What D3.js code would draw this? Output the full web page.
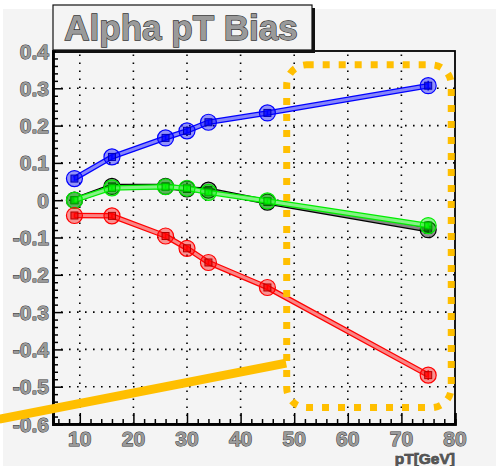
<!DOCTYPE html>
<html>
<head>
<meta charset="utf-8">
<script src="https://cdn.jsdelivr.net/npm/d3@7"></script>
<style>
  html, body { margin: 0; padding: 0; background: #ffffff; }
  svg { display: block; }
</style>
</head>
<body>
<svg id="chart" width="496" height="466"></svg>
<script>
// pT bins (GeV)
const ptValues = [9, 16, 26, 30, 34, 45, 75];

// Bias per series
const biasBlue  = [0.058, 0.116, 0.167, 0.186, 0.209, 0.234, 0.307];
const biasBlack = [0.000, 0.037, 0.037, 0.030, 0.027, -0.005, -0.079];
const biasGreen = [0.000, 0.033, 0.036, 0.032, 0.021, -0.002, -0.068];
const biasRed   = [-0.041, -0.042, -0.096, -0.129, -0.167, -0.234, -0.469];

// Statistical uncertainty on each bias value
const errBlue  = [0.006, 0.006, 0.006, 0.006, 0.006, 0.006, 0.013];
const errBlack = [0.005, 0.005, 0.005, 0.005, 0.005, 0.005, 0.010];
const errGreen = [0.005, 0.005, 0.005, 0.005, 0.005, 0.005, 0.010];
const errRed   = [0.006, 0.006, 0.006, 0.006, 0.006, 0.006, 0.013];

const seriesColors = ["#000000", "#00ee00", "#0000ff", "#ff0000"];

// Axis ticks
const xTicks = [10, 20, 30, 40, 50, 60, 70, 80];
const yTicks = [-0.6, -0.5, -0.4, -0.3, -0.2, -0.1, 0, 0.1, 0.2, 0.3, 0.4];

const titleText = "Alpha pT Bias";
const xTitle = "pT[GeV]";

// Highlight annotation (data coordinates): rounded box around the high-pT region
const boxX = [48.6, 79.3];
const boxY = [-0.556, 0.363];
// Highlight annotation (data coordinates): pointer line
const pointerX = [-5.0, 48.5];
const pointerY = [-0.587, -0.437];

const series = [
  { values: biasBlack, errs: errBlack, color: seriesColors[0] },
  { values: biasGreen, errs: errGreen, color: seriesColors[1] },
  { values: biasBlue,  errs: errBlue,  color: seriesColors[2] },
  { values: biasRed,   errs: errRed,   color: seriesColors[3] }
];

const svg = d3.select("#chart");
const bg = "#f4f4f4";

// Canvas
svg.append("rect").attr("x", 3).attr("y", 9).attr("width", 493).attr("height", 457).attr("fill", bg);

const frame = { left: 53, right: 455, top: 51, bottom: 424 };
const x = d3.scaleLinear().domain([5, 80]).range([frame.left, frame.right]);
const y = d3.scaleLinear().domain([-0.6, 0.4]).range([frame.bottom, frame.top]);

// Dotted grid
const grid = svg.append("g");
xTicks.filter(t => t < 80).forEach(t => {
  grid.append("line").attr("x1", x(t)).attr("x2", x(t)).attr("y1", frame.bottom).attr("y2", frame.top)
    .attr("stroke", "#000").attr("stroke-width", 1.6).attr("stroke-dasharray", "1.6,6.4");
});
yTicks.filter(t => t > -0.6 && t < 0.4).forEach(t => {
  grid.append("line").attr("x1", frame.left).attr("x2", frame.right).attr("y1", y(t)).attr("y2", y(t))
    .attr("stroke", "#000").attr("stroke-width", 1.6).attr("stroke-dasharray", "1.6,6.4");
});

// Frame
svg.append("rect").attr("x", frame.left).attr("y", frame.top)
  .attr("width", frame.right - frame.left).attr("height", frame.bottom - frame.top)
  .attr("fill", "none").attr("stroke", "#000").attr("stroke-width", 1.8);

// Axes with inward ticks
const xMinor = d3.range(6, 80, 2).filter(v => v % 10 !== 0);
const yMinor = d3.range(-29, 20).map(k => +(k * 0.02).toFixed(2)).filter(v => Math.abs(v * 10 - Math.round(v * 10)) > 1e-6);

const xAxis = svg.append("g").attr("transform", `translate(0,${frame.bottom})`);
xAxis.call(d3.axisBottom(x).tickValues(xMinor).tickSize(-5).tickFormat(""));
xAxis.append("g").call(d3.axisBottom(x).tickValues(xTicks).tickSize(-11).tickFormat(""));
xAxis.selectAll(".domain").attr("stroke-width", 2.5);
xAxis.selectAll(".tick line").attr("stroke-width", 1.5);

const yAxis = svg.append("g").attr("transform", `translate(${frame.left},0)`);
yAxis.call(d3.axisLeft(y).tickValues(yMinor).tickSize(-5).tickFormat(""));
yAxis.append("g").call(d3.axisLeft(y).tickValues(yTicks).tickSize(-10).tickFormat(""));
yAxis.selectAll(".domain").attr("stroke-width", 2.5);
yAxis.selectAll(".tick line").attr("stroke-width", 1.5);

// Outlined tick labels
const labelStyle = sel => sel
  .attr("font-family", "Liberation Sans, Arial, sans-serif")
  .attr("font-weight", "bold")
  .attr("font-size", 21)
  .attr("fill", "#9a9a9a")
  .attr("stroke", "#333")
  .attr("stroke-width", 1)
  .attr("paint-order", "stroke");

const fmtY = v => v === 0 ? "0" : (v < 0 ? "-" : "") + Math.abs(v).toFixed(1);

svg.append("g").selectAll("text").data(yTicks).join("text")
  .attr("x", frame.left - 4).attr("y", d => y(d)).attr("dy", "0.36em")
  .attr("text-anchor", "end").text(fmtY).call(labelStyle);

svg.append("g").selectAll("text").data(xTicks).join("text")
  .attr("x", d => x(d)).attr("y", frame.bottom + 22)
  .attr("text-anchor", "middle").text(d => d).call(labelStyle);

svg.append("text").attr("x", frame.right).attr("y", 464).attr("text-anchor", "end")
  .attr("font-family", "Liberation Sans, Arial, sans-serif").attr("font-weight", "bold")
  .attr("font-size", 15.5).attr("fill", "#555").attr("stroke", "#222").attr("stroke-width", 0.6)
  .attr("paint-order", "stroke").text(xTitle);

// Series
const line = d3.line().x((d, i) => x(ptValues[i])).y(d => y(d));
series.forEach(s => {
  const g = svg.append("g");
  const light = d3.interpolateRgb(s.color, bg)(0.55);
  g.append("path").datum(s.values).attr("d", line).attr("fill", "none")
    .attr("stroke", s.color).attr("stroke-width", 5.5).attr("stroke-linejoin", "round");
  g.append("path").datum(s.values).attr("d", line).attr("fill", "none")
    .attr("stroke", light).attr("stroke-width", 3).attr("stroke-linejoin", "round");

  const pts = g.selectAll("g.pt").data(s.values).join("g").attr("class", "pt")
    .attr("transform", (d, i) => `translate(${x(ptValues[i])},${y(d)})`);
  pts.append("circle").attr("r", 8).attr("fill", s.color).attr("fill-opacity", 0.4)
    .attr("stroke", s.color).attr("stroke-width", 1.2);
  pts.append("line")
    .attr("y1", (d, i) => y(d + s.errs[i]) - y(d))
    .attr("y2", (d, i) => y(d - s.errs[i]) - y(d))
    .attr("stroke", s.color).attr("stroke-width", 1.5);
  pts.append("rect").attr("x", -3.5).attr("y", -3.5).attr("width", 7).attr("height", 7)
    .attr("fill", s.color).attr("fill-opacity", 0.7)
    .attr("stroke", d3.color(s.color).darker(1)).attr("stroke-width", 1);
});

// Title box with drop shadow
svg.append("rect").attr("x", 56).attr("y", 8).attr("width", 259).attr("height", 45).attr("fill", "#111");
svg.append("rect").attr("x", 53).attr("y", 5).attr("width", 259).attr("height", 45)
  .attr("fill", bg).attr("stroke", "#111").attr("stroke-width", 1.2);
svg.append("text").attr("x", 181).attr("y", 40).attr("text-anchor", "middle")
  .attr("font-family", "Liberation Sans, Arial, sans-serif").attr("font-weight", "bold")
  .attr("font-size", 35).attr("fill", "#9a9a9a").attr("stroke", "#333").attr("stroke-width", 1.3)
  .attr("paint-order", "stroke").text(titleText);

// Highlight annotations
const orange = "#ffbf00";
svg.append("rect")
  .attr("x", x(boxX[0])).attr("y", y(boxY[1]))
  .attr("width", x(boxX[1]) - x(boxX[0])).attr("height", y(boxY[0]) - y(boxY[1]))
  .attr("rx", 20).attr("ry", 20)
  .attr("fill", "none").attr("stroke", orange).attr("stroke-width", 7).attr("stroke-dasharray", "7,9");
svg.append("line")
  .attr("x1", x(pointerX[0])).attr("y1", y(pointerY[0]))
  .attr("x2", x(pointerX[1])).attr("y2", y(pointerY[1]))
  .attr("stroke", orange).attr("stroke-width", 9);
</script>
</body>
</html>
